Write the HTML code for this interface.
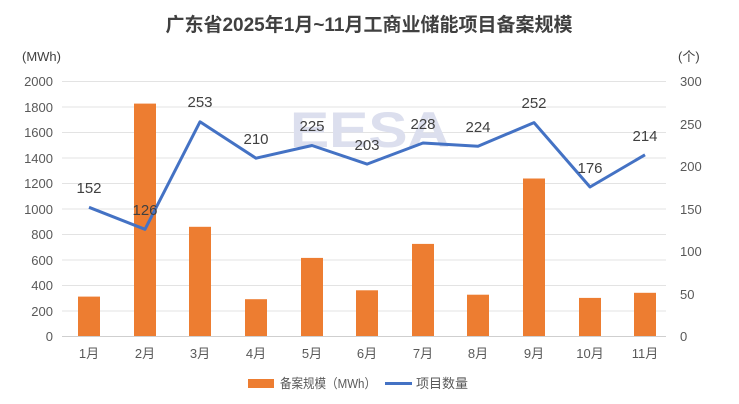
<!DOCTYPE html>
<html><head><meta charset="utf-8"><style>
body{margin:0;background:#fff;}
svg{display:block;font-family:"Liberation Sans","Noto Sans CJK SC",sans-serif;}
</style></head><body>
<svg width="739" height="404" viewBox="0 0 739 404">
<text x="369" y="31" text-anchor="middle" font-size="19" font-weight="bold" fill="#404040">广东省2025年1月~11月工商业储能项目备案规模</text>
<text x="22" y="61" font-size="13" fill="#404040">(MWh)</text>
<text x="678" y="61" font-size="13" fill="#404040">(个)</text>
<g stroke="#e3e3e3" stroke-width="1">
<line x1="62" x2="666" y1="81.5" y2="81.5"/><line x1="62" x2="666" y1="107" y2="107"/>
<line x1="62" x2="666" y1="132.5" y2="132.5"/><line x1="62" x2="666" y1="158" y2="158"/>
<line x1="62" x2="666" y1="183.5" y2="183.5"/><line x1="62" x2="666" y1="209" y2="209"/>
<line x1="62" x2="666" y1="234.5" y2="234.5"/><line x1="62" x2="666" y1="260" y2="260"/>
<line x1="62" x2="666" y1="285.5" y2="285.5"/><line x1="62" x2="666" y1="311" y2="311"/>
</g>
<line x1="62" x2="666" y1="336.5" y2="336.5" stroke="#cfcfcf"/>
<g font-size="13" fill="#595959" text-anchor="end">
<text x="53" y="86">2000</text><text x="53" y="112">1800</text><text x="53" y="137">1600</text>
<text x="53" y="163">1400</text><text x="53" y="188">1200</text><text x="53" y="214">1000</text>
<text x="53" y="239">800</text><text x="53" y="265">600</text><text x="53" y="290">400</text>
<text x="53" y="316">200</text><text x="53" y="341">0</text>
</g>
<g font-size="13" fill="#595959">
<text x="680" y="86">300</text><text x="680" y="129">250</text><text x="680" y="171">200</text>
<text x="680" y="214">150</text><text x="680" y="256">100</text><text x="680" y="299">50</text>
<text x="680" y="341">0</text>
</g>
<text x="290" y="147" font-size="50" font-weight="bold" fill="#dcdfee" textLength="160" lengthAdjust="spacingAndGlyphs">EESA</text>
<g fill="#ed7d31">
<rect x="78" y="296.6" width="22" height="39.4"/>
<rect x="134" y="103.6" width="22" height="232.4"/>
<rect x="189" y="226.8" width="22" height="109.2"/>
<rect x="245" y="299.2" width="22" height="36.8"/>
<rect x="301" y="257.9" width="22" height="78.1"/>
<rect x="356" y="290.3" width="22" height="45.7"/>
<rect x="412" y="243.9" width="22" height="92.1"/>
<rect x="467" y="294.7" width="22" height="41.3"/>
<rect x="523" y="178.5" width="22" height="157.5"/>
<rect x="579" y="297.9" width="22" height="38.1"/>
<rect x="634" y="292.8" width="22" height="43.2"/>
</g>
<polyline fill="none" stroke="#4472c4" stroke-width="3" stroke-linejoin="round" points="89,207.3 145,229.3 200,121.8 256,158.2 312,145.5 367,164.1 423,143 478,146.3 534,122.6 590,187 645,154.8"/>
<g font-size="15" fill="#404040" text-anchor="middle">
<text x="89" y="193">152</text><text x="145" y="215">126</text><text x="200" y="107">253</text>
<text x="256" y="144">210</text><text x="312" y="131">225</text><text x="367" y="150">203</text>
<text x="423" y="129">228</text><text x="478" y="132">224</text><text x="534" y="108">252</text>
<text x="590" y="173">176</text><text x="645" y="141">214</text>
</g>
<g font-size="13" fill="#595959" text-anchor="middle">
<text x="89" y="358">1月</text><text x="145" y="358">2月</text><text x="200" y="358">3月</text>
<text x="256" y="358">4月</text><text x="312" y="358">5月</text><text x="367" y="358">6月</text>
<text x="423" y="358">7月</text><text x="478" y="358">8月</text><text x="534" y="358">9月</text>
<text x="590" y="358">10月</text><text x="645" y="358">11月</text>
</g>
<rect x="248" y="379" width="26" height="9" fill="#ed7d31"/>
<text x="280" y="388" font-size="13" fill="#595959" textLength="96" lengthAdjust="spacingAndGlyphs">备案规模（MWh）</text>
<line x1="385" x2="412" y1="383.5" y2="383.5" stroke="#4472c4" stroke-width="3"/>
<text x="416" y="388" font-size="13" fill="#595959">项目数量</text>
</svg>
</body></html>
